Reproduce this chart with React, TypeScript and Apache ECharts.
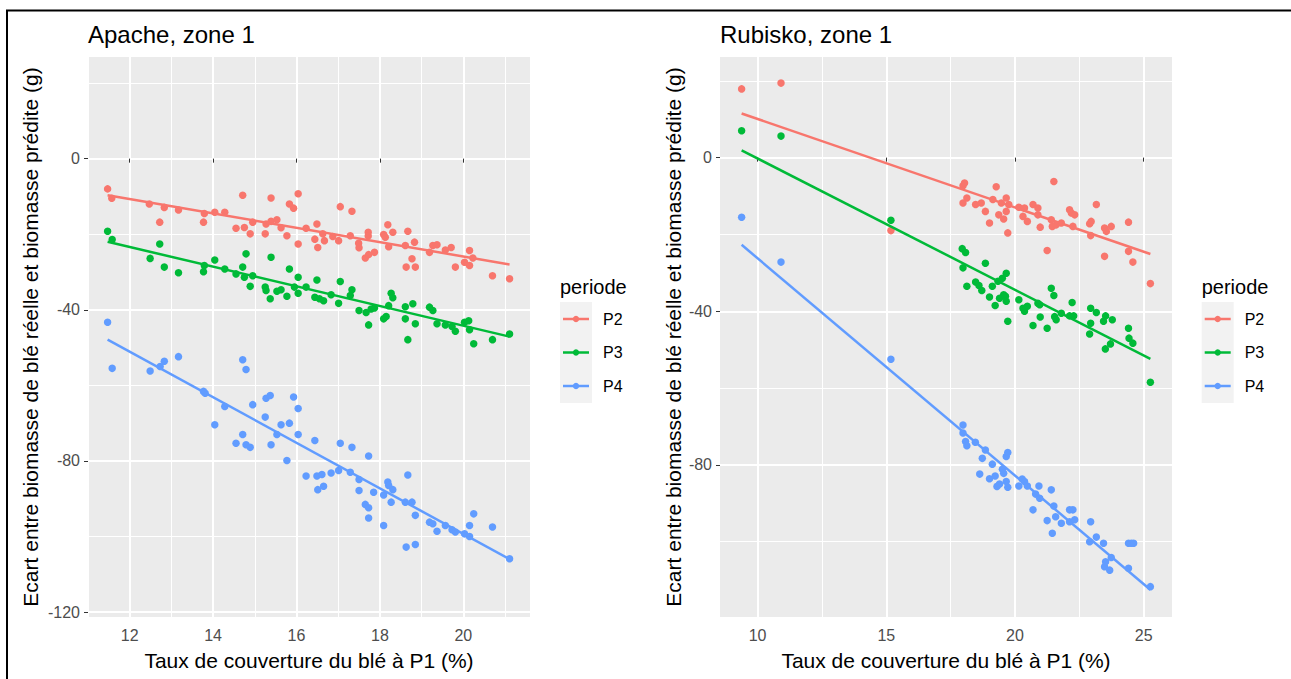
import React, { useEffect, useRef } from "react";
import * as echarts from "echarts";

const FONT = "'Liberation Sans', Arial, Helvetica, sans-serif";

const periods = ["P2", "P3", "P4"];
const periodColors = ["#F8766D", "#00BA38", "#619CFF"];

const panelTitles = ["Apache, zone 1", "Rubisko, zone 1"];
const xTitle = "Taux de couverture du blé à P1 (%)";
const yTitle = "Ecart entre biomasse de blé réelle et biomasse prédite (g)";
const legendTitle = "periode";

// Axis ticks (major labelled, minor grid lines)
const apacheXTicks = [12, 14, 16, 18, 20];
const apacheXMinor = [11, 13, 15, 17, 19, 21];
const apacheYTicks = [-120, -80, -40, 0];
const apacheYMinor = [-100, -60, -20, 20];
const rubiskoXTicks = [10, 15, 20, 25];
const rubiskoXMinor = [12.5, 17.5, 22.5];
const rubiskoYTicks = [-80, -40, 0];
const rubiskoYMinor = [-100, -60, -20, 20];

// Axis limits
const apacheXRange = [11.0, 21.6];
const apacheYRange = [-121.3, 26.9];
const rubiskoXRange = [8.54, 26.1];
const rubiskoYRange = [-119.6, 26.2];

// Apache, zone 1 data: [taux de couverture, écart]
const apacheP2: number[][] = [
  [11.47, -8.0], [11.57, -10.5], [12.47, -12.0], [12.72, -16.8], [12.83, -12.9], [13.17, -13.6],
  [13.77, -16.8], [13.79, -14.5], [14.04, -14.2], [14.28, -14.2], [14.55, -18.4], [14.71, -9.7],
  [14.75, -18.2], [14.89, -19.9], [14.95, -16.8], [15.25, -19.9], [15.27, -17.3], [15.39, -10.4],
  [15.39, -16.6], [15.53, -16.2], [15.63, -18.3], [15.77, -20.4], [15.83, -12.0], [15.93, -13.1],
  [16.04, -9.3], [16.04, -22.6], [16.23, -18.4], [16.44, -21.3], [16.49, -17.3], [16.51, -23.5],
  [16.63, -19.9], [16.67, -21.7], [16.87, -20.6], [17.01, -21.7], [17.05, -12.7], [17.29, -20.4],
  [17.33, -13.9], [17.49, -22.4], [17.5, -23.6], [17.65, -26.3], [17.72, -19.5], [17.72, -20.5],
  [17.73, -25.4], [17.87, -24.8], [18.09, -20.1], [18.13, -20.8], [18.19, -17.5], [18.21, -23.3],
  [18.31, -19.5], [18.61, -23.0], [18.63, -28.7], [18.67, -19.2], [18.77, -26.5], [18.83, -22.1],
  [18.85, -28.7], [19.19, -24.8], [19.27, -23.0], [19.37, -22.8], [19.57, -24.2], [19.71, -23.5],
  [19.81, -28.7], [20.03, -27.4], [20.15, -24.3], [20.15, -28.3], [20.23, -26.3], [20.7, -31.0],
  [21.11, -31.8],
];
const apacheP3: number[][] = [
  [11.47, -19.2], [11.58, -21.4], [12.49, -26.4], [12.72, -22.6], [12.83, -28.7], [13.17, -30.2],
  [13.77, -29.9], [13.79, -28.3], [14.04, -26.8], [14.28, -29.2], [14.55, -30.5], [14.71, -28.7],
  [14.75, -31.4], [14.79, -25.2], [14.89, -33.8], [14.95, -31.0], [15.25, -34.0], [15.27, -34.9],
  [15.37, -37.1], [15.39, -26.1], [15.53, -35.1], [15.63, -34.7], [15.77, -36.4], [15.83, -29.2],
  [15.95, -34.0], [16.04, -31.4], [16.04, -35.6], [16.23, -34.0], [16.44, -36.7], [16.49, -32.1],
  [16.55, -37.1], [16.65, -37.6], [16.83, -36.0], [17.01, -38.3], [17.05, -32.5], [17.29, -36.2],
  [17.33, -34.7], [17.5, -40.2], [17.67, -40.7], [17.73, -44.0], [17.79, -39.8], [17.87, -39.5],
  [18.09, -42.4], [18.15, -41.8], [18.21, -38.9], [18.27, -35.6], [18.31, -36.8], [18.61, -42.4],
  [18.61, -39.2], [18.67, -47.9], [18.79, -38.4], [18.85, -43.7], [19.19, -39.3], [19.27, -40.2],
  [19.37, -43.7], [19.57, -44.0], [19.73, -44.4], [19.81, -45.7], [20.03, -43.3], [20.13, -42.9],
  [20.15, -45.3], [20.25, -49.0], [20.7, -47.9], [21.11, -46.4],
];
const apacheP4: number[][] = [
  [11.47, -43.3], [11.58, -55.5], [12.49, -56.2], [12.73, -55.0], [12.83, -53.6], [13.17, -52.4],
  [13.77, -61.6], [13.81, -62.1], [14.04, -70.4], [14.28, -65.6], [14.55, -75.3], [14.71, -73.0],
  [14.71, -53.2], [14.79, -55.8], [14.79, -75.7], [14.89, -76.4], [14.95, -65.1], [15.25, -68.4],
  [15.27, -63.4], [15.37, -62.7], [15.39, -75.7], [15.53, -73.0], [15.63, -70.4], [15.77, -79.9],
  [15.83, -70.0], [15.93, -63.1], [16.04, -73.0], [16.04, -66.1], [16.23, -84.0], [16.44, -74.6],
  [16.49, -84.0], [16.51, -87.6], [16.61, -83.6], [16.65, -86.7], [16.83, -83.2], [17.01, -82.5],
  [17.05, -75.3], [17.29, -83.0], [17.33, -76.4], [17.5, -87.8], [17.5, -84.9], [17.65, -91.5],
  [17.73, -92.4], [17.73, -78.7], [17.73, -95.1], [17.85, -88.3], [18.09, -97.1], [18.09, -89.0],
  [18.19, -85.6], [18.21, -86.5], [18.27, -90.9], [18.31, -87.6], [18.61, -90.9], [18.63, -102.8],
  [18.67, -83.7], [18.77, -90.9], [18.85, -94.4], [18.85, -102.1], [19.19, -96.2], [19.27, -96.6],
  [19.37, -98.6], [19.57, -97.1], [19.73, -98.2], [19.81, -98.8], [20.03, -99.3], [20.15, -97.1],
  [20.15, -100.0], [20.25, -94.0], [20.7, -97.5], [21.11, -105.9],
];
// Fitted lines (start / end)
const apacheFitX = [11.47, 21.11];
const apacheFitP2 = [-9.7, -28.0];
const apacheFitP3 = [-22.0, -47.1];
const apacheFitP4 = [-47.9, -106.0];

// Rubisko, zone 1 data
const rubiskoP2: number[][] = [
  [9.38, 17.9], [10.91, 19.4], [15.18, -19.0], [17.98, -7.3], [18.04, -6.6], [18.13, -10.5],
  [17.98, -11.8], [18.47, -12.2], [18.69, -11.8], [18.85, -14.0], [19.01, -17.0], [19.14, -10.9],
  [19.27, -7.6], [19.37, -14.9], [19.47, -11.8], [19.56, -16.0], [19.66, -10.5], [19.66, -14.0],
  [19.72, -19.6], [19.76, -12.2], [20.15, -12.9], [20.31, -15.3], [20.37, -13.1], [20.48, -16.6],
  [20.7, -12.2], [20.89, -13.1], [20.89, -14.9], [20.98, -18.1], [21.25, -24.2], [21.41, -16.2],
  [21.45, -17.9], [21.51, -6.2], [21.6, -17.5], [21.8, -17.0], [22.12, -13.6], [22.19, -14.4],
  [22.25, -17.9], [22.32, -14.9], [22.9, -17.2], [22.94, -20.3], [22.96, -16.6], [23.16, -12.2],
  [23.48, -25.7], [23.48, -18.3], [23.55, -19.2], [23.74, -17.9], [24.41, -16.8], [24.41, -24.4],
  [24.58, -27.2], [25.26, -32.8],
];
const rubiskoP3: number[][] = [
  [9.38, 7.0], [10.91, 5.6], [15.18, -16.3], [17.95, -23.7], [18.08, -24.7], [17.98, -28.7],
  [18.13, -33.5], [18.47, -32.4], [18.6, -33.3], [18.71, -34.6], [18.85, -27.5], [19.01, -36.3],
  [19.12, -33.5], [19.23, -38.5], [19.34, -32.2], [19.4, -36.6], [19.51, -31.4], [19.56, -35.7],
  [19.63, -36.1], [19.66, -30.1], [19.66, -37.4], [19.72, -42.6], [20.15, -37.0], [20.31, -39.2],
  [20.37, -40.0], [20.48, -38.7], [20.7, -43.7], [20.89, -37.9], [20.96, -38.3], [20.98, -41.5],
  [21.25, -44.4], [21.41, -34.0], [21.51, -35.9], [21.54, -41.4], [21.6, -42.2], [21.8, -40.5],
  [22.12, -41.2], [22.22, -37.7], [22.28, -41.2], [22.9, -45.9], [22.94, -39.2], [22.94, -43.1],
  [23.16, -40.3], [23.44, -42.6], [23.52, -41.2], [23.51, -49.8], [23.71, -48.5], [23.78, -42.2],
  [24.41, -44.4], [24.43, -47.0], [24.58, -48.3], [25.26, -58.5],
];
const rubiskoP4: number[][] = [
  [9.38, -15.5], [10.91, -27.2], [15.18, -52.5], [17.98, -69.6], [17.98, -71.7], [18.08, -73.9],
  [18.13, -75.0], [18.46, -74.1], [18.63, -82.4], [18.73, -78.3], [18.85, -76.1], [19.01, -83.6],
  [19.12, -79.8], [19.23, -82.9], [19.3, -85.6], [19.4, -85.0], [19.51, -81.1], [19.56, -82.2],
  [19.66, -77.8], [19.72, -76.8], [19.66, -84.3], [19.72, -85.8], [20.15, -85.5], [20.28, -83.7],
  [20.37, -84.3], [20.48, -85.5], [20.7, -91.7], [20.8, -87.6], [20.93, -85.5], [20.96, -88.7],
  [21.25, -94.5], [21.41, -86.5], [21.45, -97.8], [21.51, -90.7], [21.58, -93.5], [21.8, -95.2],
  [22.12, -91.7], [22.12, -94.8], [22.25, -91.7], [22.32, -94.3], [22.9, -100.0], [22.94, -94.8],
  [23.16, -98.8], [23.44, -100.4], [23.48, -106.5], [23.52, -105.2], [23.68, -107.4], [23.74, -104.1],
  [24.41, -100.4], [24.52, -100.4], [24.61, -100.4], [24.41, -106.9], [25.26, -111.7],
];
const rubiskoFitX = [9.38, 25.26];
const rubiskoFitP2 = [11.5, -25.1];
const rubiskoFitP3 = [1.9, -52.4];
const rubiskoFitP4 = [-22.7, -112.5];

const panels = [
  {
    title: panelTitles[0], xRange: apacheXRange, yRange: apacheYRange,
    xTicks: apacheXTicks, xMinor: apacheXMinor, yTicks: apacheYTicks, yMinor: apacheYMinor,
    points: [apacheP2, apacheP3, apacheP4], fitX: apacheFitX, fits: [apacheFitP2, apacheFitP3, apacheFitP4],
  },
  {
    title: panelTitles[1], xRange: rubiskoXRange, yRange: rubiskoYRange,
    xTicks: rubiskoXTicks, xMinor: rubiskoXMinor, yTicks: rubiskoYTicks, yMinor: rubiskoYMinor,
    points: [rubiskoP2, rubiskoP3, rubiskoP4], fitX: rubiskoFitX, fits: [rubiskoFitP2, rubiskoFitP3, rubiskoFitP4],
  },
];

const layout = [
  { left: 88, width: 442, yNameGap: 47, legendX: 560 },
  { left: 720, width: 452, yNameGap: 36, legendX: 1201.7 },
];
const GRID_TOP = 57;
const GRID_H = 560;

function buildOption() {
  const grid: any[] = [];
  const xAxis: any[] = [];
  const yAxis: any[] = [];
  const series: any[] = [];
  const graphic: any[] = [];

  panels.forEach((p, i) => {
    const L = layout[i];
    grid.push({
      left: L.left, top: GRID_TOP, width: L.width, height: GRID_H,
      show: true, backgroundColor: "#EBEBEB", borderWidth: 0, containLabel: false,
    });
    const tickStyle = { show: true, length: 4, lineStyle: { color: "#333333", width: 1 } };
    const labelStyle = { show: true, color: "#4D4D4D", fontSize: 16, fontFamily: FONT };
    // main x
    xAxis.push({
      type: "value", gridIndex: i, min: p.xRange[0], max: p.xRange[1], position: "bottom",
      axisLine: { show: false },
      axisTick: { ...tickStyle, customValues: p.xTicks },
      axisLabel: { ...labelStyle, customValues: p.xTicks, margin: 10 },
      splitLine: { show: true, lineStyle: { color: "#FFFFFF", width: 2 } },
      name: xTitle, nameLocation: "middle", nameGap: 33,
      nameTextStyle: { color: "#000000", fontSize: 21, fontFamily: FONT },
    });
    // minor x
    xAxis.push({
      type: "value", gridIndex: i, min: p.xRange[0], max: p.xRange[1], position: "bottom",
      axisLine: { show: false },
      axisTick: { show: false, customValues: p.xMinor },
      axisLabel: { show: false, customValues: p.xMinor },
      splitLine: { show: true, lineStyle: { color: "#FFFFFF", width: 1 } },
    });
    yAxis.push({
      type: "value", gridIndex: i, min: p.yRange[0], max: p.yRange[1], position: "left",
      axisLine: { show: false },
      axisTick: { ...tickStyle, customValues: p.yTicks },
      axisLabel: { ...labelStyle, customValues: p.yTicks, margin: 8 },
      splitLine: { show: true, lineStyle: { color: "#FFFFFF", width: 2 } },
      name: yTitle, nameLocation: "middle", nameGap: L.yNameGap, nameRotate: 90,
      nameTextStyle: { color: "#000000", fontSize: 21, fontFamily: FONT },
    });
    yAxis.push({
      type: "value", gridIndex: i, min: p.yRange[0], max: p.yRange[1], position: "left",
      axisLine: { show: false },
      axisTick: { show: false, customValues: p.yMinor },
      axisLabel: { show: false, customValues: p.yMinor },
      splitLine: { show: true, lineStyle: { color: "#FFFFFF", width: 1 } },
    });

    periods.forEach((name, k) => {
      series.push({
        type: "scatter", name, xAxisIndex: i * 2, yAxisIndex: i * 2,
        data: p.points[k], symbol: "circle", symbolSize: 7.5,
        itemStyle: { color: periodColors[k], opacity: 1 }, z: 3, silent: true,
      });
    });
    periods.forEach((name, k) => {
      series.push({
        type: "line", name, xAxisIndex: i * 2, yAxisIndex: i * 2,
        data: p.fitX.map((x, j) => [x, p.fits[k][j]]),
        showSymbol: false, symbol: "none",
        lineStyle: { color: periodColors[k], width: 2.5 }, z: 4, silent: true,
      });
    });

    graphic.push({
      type: "text", x: L.left, y: 34,
      style: { text: p.title, font: `24px ${FONT}`, fill: "#000000", verticalAlign: "middle", align: "left" },
    });

    // legend
    const lx = L.legendX;
    graphic.push({
      type: "text", x: lx, y: 287,
      style: { text: legendTitle, font: `20px ${FONT}`, fill: "#000000", verticalAlign: "middle", align: "left" },
    });
    graphic.push({
      type: "rect", shape: { x: lx, y: 302, width: 32, height: 101 },
      style: { fill: "#F2F2F2" },
    });
    periods.forEach((name, k) => {
      const cy = 319 + k * 33.5;
      graphic.push({
        type: "line", shape: { x1: lx + 3, y1: cy, x2: lx + 29, y2: cy },
        style: { stroke: periodColors[k], lineWidth: 2.5 },
      });
      graphic.push({
        type: "circle", shape: { cx: lx + 16, cy, r: 3.2 },
        style: { fill: periodColors[k] },
      });
      graphic.push({
        type: "text", x: lx + 43, y: cy,
        style: { text: name, font: `16px ${FONT}`, fill: "#000000", verticalAlign: "middle", align: "left" },
      });
    });
  });

  graphic.push({
    type: "rect", shape: { x: 7, y: 10.5, width: 1400, height: 800 },
    style: { fill: "none", stroke: "#000000", lineWidth: 2 }, silent: true, z: 100,
  });

  return {
    animation: false,
    backgroundColor: "#FFFFFF",
    textStyle: { fontFamily: FONT },
    grid, xAxis, yAxis, series, graphic,
    legend: { show: false },
    tooltip: { show: false },
  };
}

export default function App() {
  const ref = useRef<HTMLDivElement>(null);
  useEffect(() => {
    if (!ref.current) return;
    const chart = echarts.init(ref.current, undefined, { renderer: "svg" });
    chart.setOption(buildOption() as any);
    return () => chart.dispose();
  }, []);
  return (
    <div
      ref={ref}
      style={{ position: "absolute", left: 0, top: 0, width: 1291, height: 679, background: "#FFFFFF" }}
    />
  );
}
